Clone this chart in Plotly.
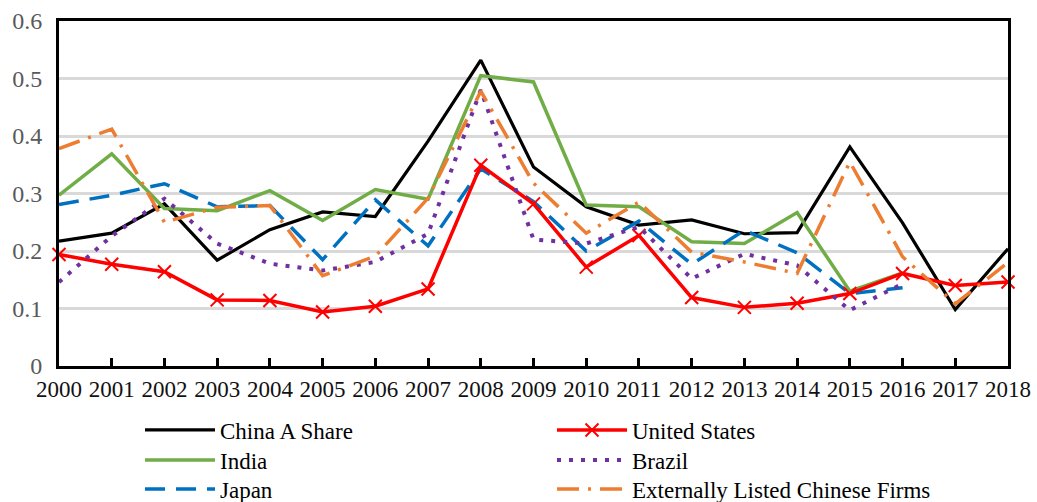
import plotly.graph_objects as go

years = [str(y) for y in range(2000, 2019)]

china_a = [0.217, 0.231, 0.282, 0.184, 0.237, 0.268, 0.260, 0.391, 0.532, 0.346,
           0.277, 0.245, 0.254, 0.230, 0.232, 0.381, 0.249, 0.098, 0.204]
united_states = [0.194, 0.177, 0.164, 0.115, 0.114, 0.094, 0.104, 0.134, 0.349, 0.282,
                 0.172, 0.227, 0.119, 0.102, 0.109, 0.126, 0.161, 0.140, 0.146]
india = [0.297, 0.369, 0.274, 0.270, 0.305, 0.253, 0.307, 0.290, 0.505, 0.494,
         0.280, 0.277, 0.216, 0.213, 0.267, 0.130, 0.162, None, None]
brazil = [0.146, 0.226, 0.291, 0.213, 0.178, 0.166, 0.181, 0.230, 0.480, 0.220,
          0.213, 0.242, 0.152, 0.195, 0.175, 0.097, 0.143, None, None]
japan = [0.281, 0.297, 0.317, 0.277, 0.279, 0.185, 0.289, 0.209, 0.343, 0.286,
         0.200, 0.252, 0.177, 0.236, 0.197, 0.126, 0.136, None, None]
external = [0.378, 0.412, 0.250, 0.276, 0.279, 0.157, 0.191, 0.292, 0.478, 0.318,
            0.231, 0.285, 0.198, 0.181, 0.161, 0.355, 0.190, 0.108, 0.180]

FONT = "Liberation Serif"

fig = go.Figure()

fig.add_trace(go.Scatter(x=years, y=china_a, name="China A Share", mode="lines",
                         line=dict(color="#000000", width=3.2), legend="legend"))
fig.add_trace(go.Scatter(x=years, y=india, name="India", mode="lines",
                         line=dict(color="#70AD47", width=3.5), legend="legend2"))
fig.add_trace(go.Scatter(x=years, y=japan, name="Japan", mode="lines",
                         line=dict(color="#0070C0", width=3.5, dash="20px,11px"),
                         legend="legend3"))
fig.add_trace(go.Scatter(x=years, y=united_states, name="United States", mode="lines+markers",
                         line=dict(color="#FF0000", width=3.5),
                         marker=dict(symbol="x-thin", size=13, color="#FF0000",
                                     line=dict(color="#FF0000", width=2)),
                         cliponaxis=False, legend="legend4"))
fig.add_trace(go.Scatter(x=years, y=brazil, name="Brazil", mode="lines",
                         line=dict(color="#7030A0", width=4, dash="4px,8px"),
                         legend="legend5"))
fig.add_trace(go.Scatter(x=years, y=external, name="Externally Listed Chinese Firms",
                         mode="lines",
                         line=dict(color="#ED7D31", width=3.5, dash="22px,9px,3px,9px"),
                         legend="legend6"))

leg_common = dict(yanchor="middle", xanchor="left", orientation="v",
                  xref="container", yref="container",
                  font=dict(family=FONT, size=23, color="#000000"),
                  bgcolor="rgba(0,0,0,0)", tracegroupgap=0, itemwidth=70)

col_x = [140, 552]
row_y = [430, 460, 489]
legends = {}
names = ["legend", "legend2", "legend3", "legend4", "legend5", "legend6"]
for i, nm in enumerate(names):
    c, r = divmod(i, 3)
    legends[nm] = dict(x=col_x[c] / 1037, y=1 - row_y[r] / 502, **leg_common)

fig.update_layout(
    width=1037, height=502,
    margin=dict(l=59, r=29, t=21, b=136, autoexpand=False),
    paper_bgcolor="white", plot_bgcolor="white",
    font=dict(family=FONT, size=22, color="#000000"),
    showlegend=True,
    **legends,
    xaxis=dict(type="category", range=[0, 18], showgrid=False, automargin=False,
               showline=True, linecolor="#000000", linewidth=3, mirror=True,
               ticks="inside", ticklen=8, tickwidth=2.5, tickcolor="#000000",
               tickfont=dict(family=FONT, size=23, color="#111111"),
               zeroline=False),
    yaxis=dict(range=[0, 0.6], dtick=0.1, showgrid=True, gridcolor="#D9D9D9", gridwidth=2.5,
               showline=True, linecolor="#000000", linewidth=3, mirror=True, automargin=False,
               ticks="", tickfont=dict(family=FONT, size=24, color="#595959"),
               ticklabelstandoff=9, zeroline=False),
)

fig.write_html("out.html", config={"displayModeBar": False},
               post_script="document.body.style.margin='0px';")
